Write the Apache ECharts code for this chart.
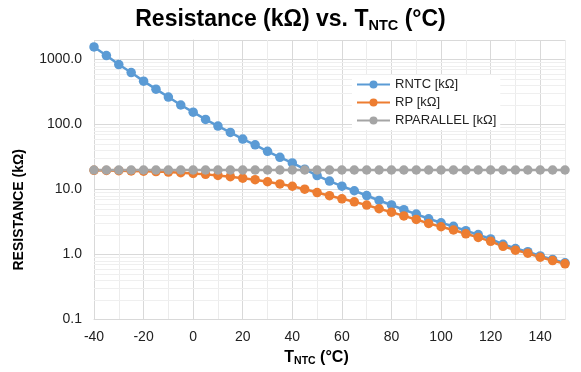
<!DOCTYPE html>
<html><head><meta charset="utf-8">
<script src="https://cdn.jsdelivr.net/npm/echarts@6/dist/echarts.min.js"></script>
<style>html,body{margin:0;padding:0;background:#fff}#c{width:581px;height:372px}</style>
</head><body><div id="c"></div>
<script>
const temperatures = [-40,-35,-30,-25,-20,-15,-10,-5,0,5,10,15,20,25,30,35,40,45,50,55,60,65,70,75,80,85,90,95,100,105,110,115,120,125,130,135,140,145,150];
const rntc = [1563,1151,839,632,466,351,265,200,155,120,95,75.7,59.8,48.9,38.8,31.4,25.7,20.6,16.4,13.5,11.3,9.6,8.1,6.8,5.8,4.9,4.2,3.56,3.09,2.72,2.33,2.03,1.74,1.44,1.24,1.11,0.955,0.843,0.746];
const rp = [19.75,19.66,19.53,19.39,19.18,18.92,18.60,18.18,17.71,17.14,16.52,15.82,14.99,14.19,13.20,12.22,11.25,10.15,9.01,8.06,7.22,6.49,5.77,5.07,4.50,3.94,3.47,3.02,2.68,2.39,2.09,1.84,1.60,1.34,1.17,1.05,0.91,0.81,0.72];
const rparallel = [20,20,20,20,20,20,20,20,20,20,20,20,20,20,20,20,20,20,20,20,20,20,20,20,20,20,20,20,20,20,20,20,20,20,20,20,20,20,20];
const seriesNames = ['RNTC [kΩ]','RP [kΩ]','RPARALLEL [kΩ]'];
const seriesColors = ['#5b9bd5','#ed7d31','#a5a5a5'];
const yMinorGrid = [];
[0.1,1,10,100,1000].forEach(d => { for (let k = 2; k <= 9; k++) { const v = +(k*d).toFixed(2); if (v < 2000) yMinorGrid.push(v); } });

const pairs = arr => temperatures.map((t,i) => [t, arr[i]]);
const font = 'Liberation Sans, Arial, sans-serif';
const chart = echarts.init(document.getElementById('c'), null, {renderer:'canvas'});
const mkSeries = (name, arr, color) => ({
  name, type:'line', data: pairs(arr), symbol:'circle', symbolSize:9.5,
  lineStyle:{color, width:2.5}, itemStyle:{color}, z:3, animation:false
});
chart.setOption({
  animation:false,
  backgroundColor:'#fff',
  title:{
    text:'{a|Resistance (kΩ) vs. T}{s|NTC}{a| (°C)}',
    left:'center', top:2,
    textStyle:{rich:{
      a:{fontFamily:font, fontWeight:'bold', fontSize:23, color:'#000'},
      s:{fontFamily:font, fontWeight:'bold', fontSize:14.5, color:'#000', padding:[11,0,0,0]}
    }}
  },
  grid:{left:94, right:16, top:40, bottom:50},
  legend:{
    data:seriesNames, orient:'vertical', left:352, top:75, z:6,
    itemWidth:33, itemHeight:10, itemGap:5,
    backgroundColor:'#fff', padding:[3,4,3,4],
    textStyle:{fontFamily:font, fontSize:13, color:'#222'}
  },
  xAxis:{
    type:'value', min:-40, max:150, interval:10,
    name:'{a|T}{s|NTC}{a| (°C)}', nameLocation:'middle', nameGap:26,
    nameTextStyle:{padding:[0,26,0,0], rich:{
      a:{fontFamily:font, fontWeight:'bold', fontSize:16, color:'#000'},
      s:{fontFamily:font, fontWeight:'bold', fontSize:10.5, color:'#000', padding:[8,0,0,0]}
    }},
    axisLine:{show:true, lineStyle:{color:'#d9d9d9'}},
    axisTick:{show:false},
    axisLabel:{fontFamily:font, fontSize:14, color:'#222', margin:11, showMaxLabel:false,
      formatter: v => (v % 20 === 0 ? String(v) : '')},
    splitLine:{show:true, lineStyle:{color:['#d9d9d9','#ececec'], width:1}}
  },
  yAxis:{
    type:'log', logBase:10, min:0.1, max:2000,
    name:'RESISTANCE (kΩ)', nameLocation:'middle', nameGap:68, nameRotate:90,
    nameTextStyle:{fontFamily:font, fontWeight:'bold', fontSize:14, color:'#000', padding:[0,60,0,0]},
    axisLine:{show:true, lineStyle:{color:'#d9d9d9'}},
    axisTick:{show:false},
    axisLabel:{fontFamily:font, fontSize:14, color:'#222', margin:12, showMaxLabel:false,
      formatter: v => Number(v).toFixed(1)},
    splitLine:{show:true, lineStyle:{color:'#d9d9d9', width:1}}
  },
  series:[
    {name:'minor', type:'line', data:[], z:1, silent:true,
     markLine:{silent:true, z:1, symbol:'none', label:{show:false}, animation:false,
       lineStyle:{color:'#efefef', width:1, type:'solid'},
       data: yMinorGrid.map(v => ({yAxis:v}))}},
    mkSeries(seriesNames[0], rntc, seriesColors[0]),
    mkSeries(seriesNames[1], rp, seriesColors[1]),
    mkSeries(seriesNames[2], rparallel, seriesColors[2])
  ]
});
</script></body></html>
